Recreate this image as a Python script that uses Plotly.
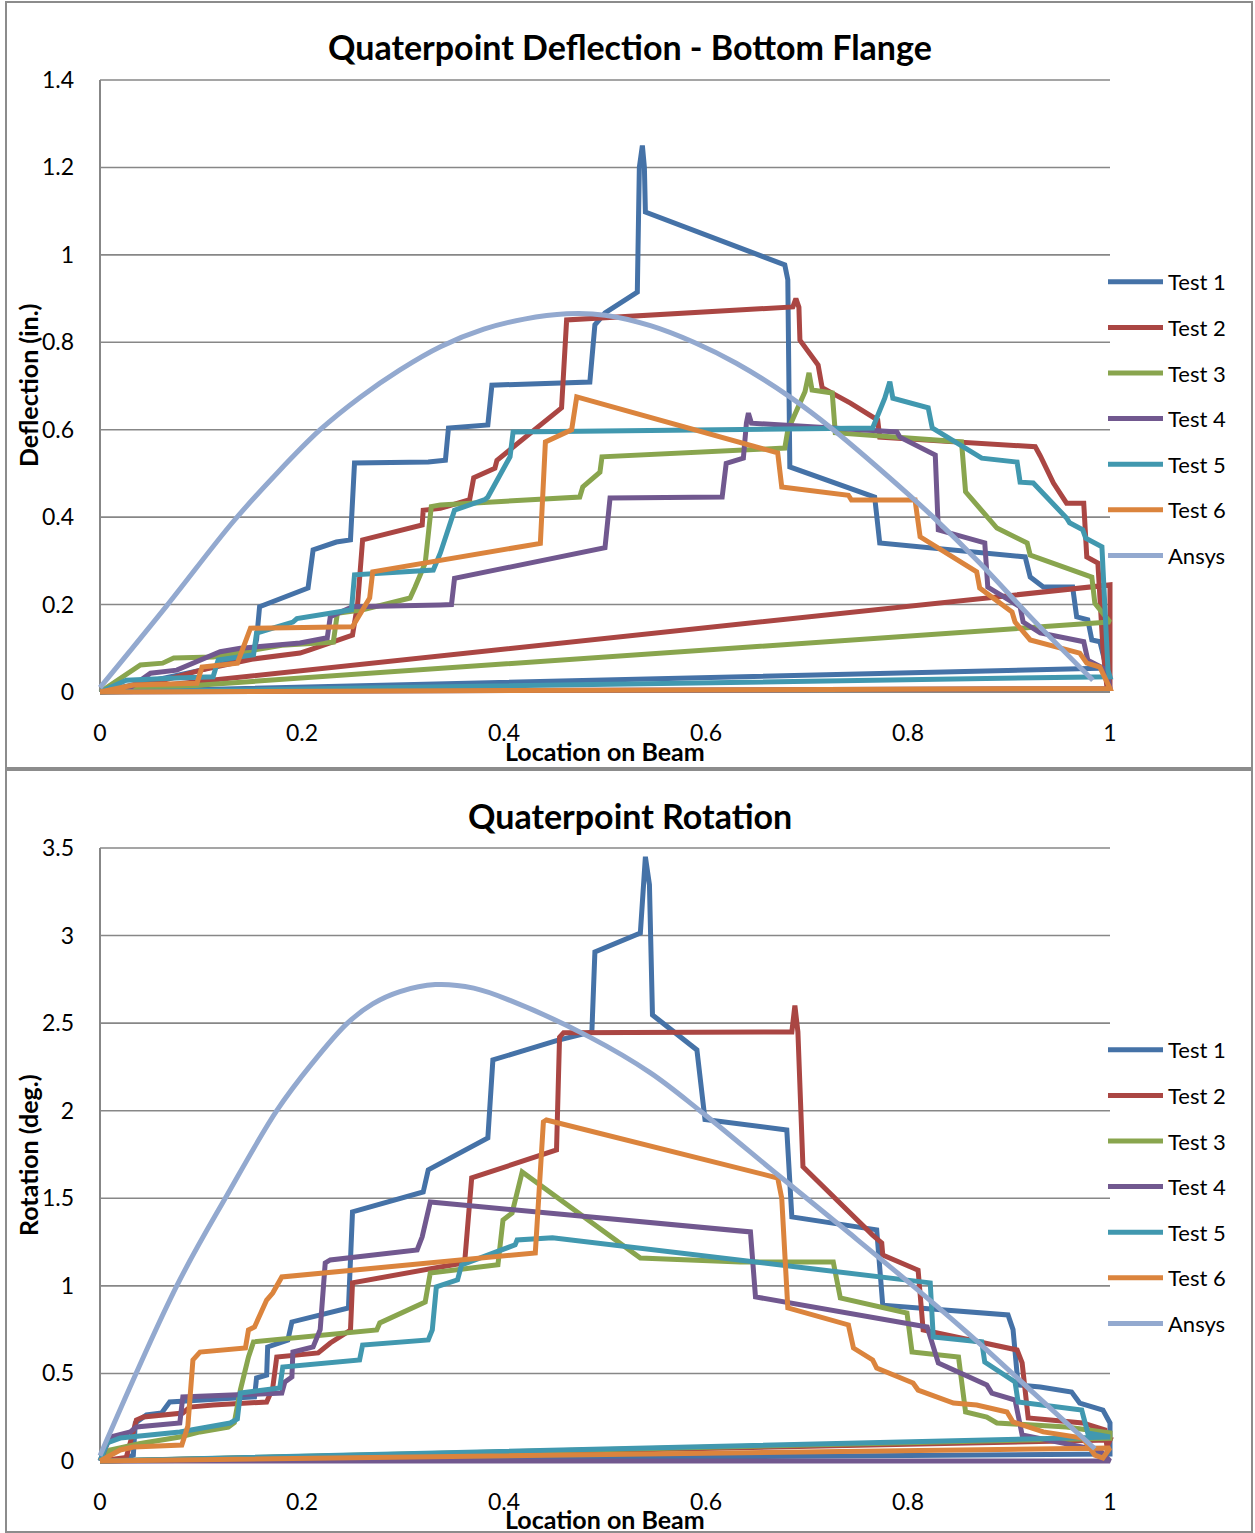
import plotly.graph_objects as go

W, H = 1255, 1533

names = ["Test 1", "Test 2", "Test 3", "Test 4", "Test 5", "Test 6", "Ansys"]
colors = ["#4572A7", "#AA4643", "#89A54E", "#71588F", "#4198AF", "#DB843D", "#93A9CF"]

# ---------------- Top: deflection (in.) ----------------
d1_x = [0, 0.03, 0.06, 0.1, 0.13, 0.152, 0.155, 0.158, 0.206, 0.211, 0.234, 0.248, 0.252, 0.325, 0.342, 0.345, 0.384, 0.388, 0.485, 0.49, 0.5, 0.532, 0.534, 0.537, 0.539, 0.54, 0.678, 0.681, 0.683, 0.767, 0.772, 0.916, 0.921, 0.934, 0.963, 0.967, 0.978, 0.982, 0.99, 0.997, 1.0, 0]
d1_y = [0, 0.015, 0.03, 0.05, 0.07, 0.09, 0.12, 0.195, 0.238, 0.325, 0.343, 0.348, 0.524, 0.526, 0.53, 0.604, 0.611, 0.702, 0.709, 0.84, 0.867, 0.915, 1.2, 1.25, 1.2, 1.098, 0.977, 0.943, 0.515, 0.446, 0.341, 0.309, 0.263, 0.24, 0.24, 0.172, 0.165, 0.119, 0.115, 0.05, 0.055, 0]

d2_x = [0, 0.03, 0.06, 0.1, 0.15, 0.198, 0.207, 0.25, 0.255, 0.26, 0.319, 0.32, 0.337, 0.366, 0.37, 0.391, 0.393, 0.457, 0.462, 0.686, 0.689, 0.692, 0.693, 0.711, 0.715, 0.743, 0.77, 0.772, 0.926, 0.931, 0.944, 0.957, 0.974, 0.977, 0.988, 0.993, 0.997, 1.0, 1.0, 0]
d2_y = [0, 0.01, 0.025, 0.05, 0.075, 0.089, 0.096, 0.13, 0.2, 0.348, 0.382, 0.416, 0.42, 0.44, 0.49, 0.512, 0.53, 0.65, 0.851, 0.881, 0.90, 0.88, 0.805, 0.748, 0.696, 0.661, 0.622, 0.583, 0.561, 0.54, 0.478, 0.432, 0.432, 0.309, 0.295, 0.1, 0.01, 0.01, 0.245, 0]

d3_x = [0, 0.02, 0.04, 0.062, 0.073, 0.112, 0.18, 0.231, 0.235, 0.26, 0.307, 0.312, 0.322, 0.328, 0.337, 0.475, 0.478, 0.495, 0.497, 0.678, 0.681, 0.698, 0.702, 0.705, 0.725, 0.728, 0.853, 0.857, 0.884, 0.888, 0.918, 0.921, 0.982, 0.985, 1.0, 0]
d3_y = [0, 0.03, 0.062, 0.066, 0.078, 0.08, 0.107, 0.114, 0.18, 0.188, 0.215, 0.24, 0.295, 0.424, 0.428, 0.446, 0.469, 0.503, 0.538, 0.558, 0.599, 0.687, 0.73, 0.691, 0.684, 0.593, 0.572, 0.458, 0.386, 0.375, 0.341, 0.313, 0.263, 0.203, 0.16, 0]

d4_x = [0, 0.03, 0.05, 0.076, 0.119, 0.139, 0.198, 0.225, 0.228, 0.25, 0.337, 0.348, 0.351, 0.5, 0.505, 0.616, 0.62, 0.637, 0.64, 0.642, 0.645, 0.789, 0.792, 0.827, 0.83, 0.876, 0.879, 0.911, 0.914, 0.931, 0.974, 0.978, 0.997, 1.0, 0]
d4_y = [0, 0.01, 0.043, 0.05, 0.092, 0.1, 0.112, 0.124, 0.172, 0.195, 0.199, 0.2, 0.26, 0.33, 0.444, 0.446, 0.523, 0.535, 0.615, 0.638, 0.615, 0.595, 0.583, 0.542, 0.371, 0.341, 0.24, 0.195, 0.16, 0.135, 0.115, 0.073, 0.05, 0.008, 0]

d5_x = [0, 0.026, 0.076, 0.112, 0.117, 0.152, 0.155, 0.191, 0.195, 0.249, 0.252, 0.33, 0.337, 0.351, 0.381, 0.384, 0.406, 0.409, 0.765, 0.777, 0.782, 0.785, 0.82, 0.824, 0.873, 0.908, 0.911, 0.924, 0.957, 0.96, 0.973, 0.976, 0.992, 0.998, 1.0, 0]
d5_y = [0, 0.027, 0.032, 0.035, 0.073, 0.085, 0.135, 0.16, 0.168, 0.188, 0.268, 0.279, 0.318, 0.416, 0.44, 0.446, 0.538, 0.595, 0.604, 0.672, 0.71, 0.672, 0.65, 0.604, 0.535, 0.526, 0.48, 0.478, 0.398, 0.387, 0.371, 0.352, 0.332, 0.05, 0.035, 0]

d6_x = [0, 0.033, 0.096, 0.101, 0.136, 0.149, 0.25, 0.267, 0.27, 0.337, 0.436, 0.441, 0.467, 0.472, 0.671, 0.675, 0.741, 0.744, 0.807, 0.812, 0.868, 0.871, 0.903, 0.906, 0.921, 0.97, 0.977, 0.99, 1.0, 0]
d6_y = [0, 0.016, 0.02, 0.057, 0.066, 0.146, 0.149, 0.215, 0.275, 0.302, 0.34, 0.572, 0.6, 0.675, 0.547, 0.469, 0.45, 0.439, 0.439, 0.355, 0.275, 0.238, 0.183, 0.16, 0.119, 0.089, 0.066, 0.057, 0.008, 0]

da_x = [0, 0.066, 0.132, 0.175, 0.218, 0.258, 0.297, 0.337, 0.38, 0.42, 0.462, 0.5, 0.545, 0.588, 0.63, 0.683, 0.726, 0.799, 0.825, 0.871, 0.924, 0.983]
da_y = [0.01, 0.197, 0.39, 0.5, 0.6, 0.675, 0.737, 0.79, 0.83, 0.853, 0.865, 0.862, 0.838, 0.8, 0.752, 0.675, 0.6, 0.455, 0.4, 0.295, 0.165, 0.027]

# ---------------- Bottom: rotation (deg.) ----------------
r1_x = [0, 0.02, 0.033, 0.035, 0.046, 0.061, 0.069, 0.153, 0.155, 0.165, 0.166, 0.186, 0.19, 0.228, 0.246, 0.25, 0.32, 0.325, 0.384, 0.389, 0.452, 0.487, 0.49, 0.535, 0.54, 0.544, 0.547, 0.591, 0.597, 0.599, 0.68, 0.685, 0.769, 0.775, 0.899, 0.904, 0.909, 0.931, 0.962, 0.97, 0.993, 1.0, 1.0, 0]
r1_y = [0, 0.0, 0.034, 0.217, 0.263, 0.274, 0.337, 0.366, 0.474, 0.491, 0.651, 0.691, 0.794, 0.845, 0.874, 1.422, 1.536, 1.662, 1.844, 2.29, 2.4, 2.45, 2.907, 3.015, 3.45, 3.29, 2.547, 2.347, 2.02, 1.95, 1.89, 1.394, 1.32, 0.89, 0.834, 0.75, 0.434, 0.423, 0.394, 0.331, 0.291, 0.217, 0.04, 0]

r2_x = [0, 0.026, 0.036, 0.043, 0.082, 0.089, 0.112, 0.165, 0.171, 0.175, 0.216, 0.228, 0.248, 0.25, 0.337, 0.361, 0.368, 0.452, 0.455, 0.459, 0.685, 0.688, 0.691, 0.696, 0.765, 0.774, 0.775, 0.81, 0.815, 0.908, 0.913, 0.919, 0.973, 0.995, 0.997, 1.0, 0]
r2_y = [0, 0.02, 0.234, 0.251, 0.274, 0.308, 0.32, 0.337, 0.417, 0.594, 0.617, 0.674, 0.748, 1.017, 1.108, 1.131, 1.616, 1.776, 2.42, 2.445, 2.45, 2.6, 2.45, 1.68, 1.29, 1.245, 1.176, 1.09, 0.748, 0.634, 0.56, 0.246, 0.217, 0.177, 0.08, 0.12, 0]

r3_x = [0, 0.01, 0.04, 0.079, 0.099, 0.127, 0.133, 0.139, 0.147, 0.152, 0.274, 0.277, 0.322, 0.327, 0.394, 0.399, 0.408, 0.418, 0.535, 0.634, 0.726, 0.733, 0.799, 0.804, 0.85, 0.857, 0.878, 0.888, 0.957, 1.0, 1.0, 0]
r3_y = [0, 0.063, 0.1, 0.137, 0.166, 0.194, 0.22, 0.406, 0.594, 0.68, 0.748, 0.788, 0.908, 1.074, 1.12, 1.376, 1.416, 1.65, 1.159, 1.136, 1.136, 0.931, 0.845, 0.622, 0.594, 0.28, 0.251, 0.217, 0.194, 0.16, 0.13, 0]

r4_x = [0, 0.01, 0.03, 0.036, 0.079, 0.082, 0.18, 0.183, 0.19, 0.191, 0.211, 0.218, 0.223, 0.228, 0.314, 0.319, 0.327, 0.644, 0.649, 0.819, 0.83, 0.878, 0.883, 0.906, 0.913, 0.96, 0.99, 1.0, 0]
r4_y = [0, 0.137, 0.166, 0.194, 0.217, 0.366, 0.388, 0.451, 0.48, 0.622, 0.651, 0.75, 1.131, 1.148, 1.205, 1.28, 1.479, 1.308, 0.937, 0.765, 0.56, 0.434, 0.388, 0.348, 0.149, 0.091, 0.06, 0.0, 0]

r5_x = [0, 0.007, 0.02, 0.079, 0.129, 0.136, 0.139, 0.178, 0.181, 0.257, 0.26, 0.325, 0.329, 0.333, 0.354, 0.358, 0.411, 0.413, 0.448, 0.822, 0.825, 0.873, 0.876, 0.906, 0.909, 0.972, 0.978, 1.0, 0]
r5_y = [0, 0.103, 0.131, 0.166, 0.217, 0.24, 0.388, 0.417, 0.537, 0.577, 0.662, 0.691, 0.748, 0.994, 1.034, 1.12, 1.234, 1.262, 1.274, 1.017, 0.708, 0.68, 0.565, 0.451, 0.337, 0.291, 0.16, 0.137, 0]

r6_x = [0, 0.02, 0.033, 0.081, 0.087, 0.092, 0.099, 0.144, 0.147, 0.153, 0.165, 0.171, 0.18, 0.431, 0.439, 0.442, 0.671, 0.675, 0.681, 0.741, 0.746, 0.765, 0.769, 0.805, 0.81, 0.845, 0.868, 0.898, 0.904, 0.934, 0.973, 0.985, 0.993, 1.0, 0]
r6_y = [0, 0.063, 0.08, 0.091, 0.2, 0.577, 0.622, 0.645, 0.748, 0.765, 0.919, 0.959, 1.051, 1.188, 1.936, 1.947, 1.616, 1.5, 0.874, 0.777, 0.645, 0.577, 0.531, 0.445, 0.405, 0.331, 0.32, 0.28, 0.223, 0.166, 0.131, 0.034, 0.017, 0.074, 0]

ra_x = [0, 0.076, 0.126, 0.175, 0.21, 0.245, 0.27, 0.297, 0.332, 0.37, 0.406, 0.485, 0.545, 0.594, 0.672, 0.74, 0.809, 0.874, 0.924, 0.985]
ra_y = [0.03, 1.0, 1.52, 2.0, 2.27, 2.5, 2.61, 2.68, 2.72, 2.70, 2.63, 2.42, 2.216, 2.0, 1.63, 1.31, 0.98, 0.655, 0.39, 0.07]

x_ticks = [0, 0.2, 0.4, 0.6, 0.8, 1]
top_yticks = [0, 0.2, 0.4, 0.6, 0.8, 1, 1.2, 1.4]
bot_yticks = [0, 0.5, 1, 1.5, 2, 2.5, 3, 3.5]

top_series = [(d1_x, d1_y), (d2_x, d2_y), (d3_x, d3_y), (d4_x, d4_y), (d5_x, d5_y), (d6_x, d6_y), (da_x, da_y)]
bot_series = [(r1_x, r1_y), (r2_x, r2_y), (r3_x, r3_y), (r4_x, r4_y), (r5_x, r5_y), (r6_x, r6_y), (ra_x, ra_y)]

FONT = "Lato"
GRID = "#878787"
LW = 5

fig = go.Figure()
for i, (xs, ys) in enumerate(top_series):
    fig.add_trace(go.Scatter(
        x=xs, y=ys, mode="lines", name=names[i], xaxis="x", yaxis="y",
        line=dict(color=colors[i], width=LW, shape="spline" if names[i] == "Ansys" else "linear"),
        legend="legend", legendgroup="t" + str(i)))
for i, (xs, ys) in enumerate(bot_series):
    fig.add_trace(go.Scatter(
        x=xs, y=ys, mode="lines", name=names[i], xaxis="x2", yaxis="y2",
        line=dict(color=colors[i], width=LW, shape="spline" if names[i] == "Ansys" else "linear"),
        legend="legend2", legendgroup="b" + str(i)))

def px_x(p):
    return p / W

def px_y(p):
    return 1 - p / H

X0, X1 = 100, 1110
ppx = (X1 - X0) / 1.0
padL, padR = 3, 4

def xaxis_cfg(anchor):
    return dict(domain=[px_x(X0 - padL), px_x(X1 + padR)],
                range=[-padL / ppx, 1 + padR / ppx],
                tickvals=x_ticks, ticktext=[("%g" % v) for v in x_ticks],
                showgrid=False, zeroline=False, showline=False, ticks="",
                anchor=anchor, automargin=False,
                tickfont=dict(family=FONT, size=23, color="black"),
                ticklabelstandoff=22, fixedrange=True)

def yaxis_cfg(anchor, ytop_px, y0_px, top_val, ticks):
    ppy = (y0_px - ytop_px) / top_val
    padT, padB = 3, 3
    return dict(domain=[px_y(y0_px + padB), px_y(ytop_px - padT)],
                range=[-padB / ppy, top_val + padT / ppy],
                tickvals=ticks, ticktext=[("%g" % v) for v in ticks],
                showgrid=False, zeroline=False, showline=False, ticks="",
                anchor=anchor, automargin=False,
                tickfont=dict(family=FONT, size=23, color="black"),
                ticklabelstandoff=22, fixedrange=True)

# gridlines and axis lines spanning exactly the value range 0..1
grid_shapes = []
for xr, yr, ticks in (("x", "y", top_yticks), ("x2", "y2", bot_yticks)):
    for t in ticks:
        grid_shapes.append(dict(type="line", xref=xr, yref=yr, x0=0, x1=1, y0=t, y1=t,
                                line=dict(color=GRID, width=2 if t == 0 else 1.6), layer="below"))
    grid_shapes.append(dict(type="line", xref=xr, yref=yr, x0=0, x1=0, y0=0, y1=ticks[-1],
                            line=dict(color=GRID, width=2), layer="below"))

legend_common = dict(xanchor="left", yanchor="top",
                     font=dict(family=FONT, size=22, color="black"),
                     tracegroupgap=14, itemwidth=55, bgcolor="rgba(0,0,0,0)",
                     borderwidth=0)

fig.update_layout(
    width=W, height=H, autosize=False,
    margin=dict(l=0, r=0, t=0, b=0, pad=0, autoexpand=False),
    paper_bgcolor="white", plot_bgcolor="white",
    xaxis=xaxis_cfg("y"),
    yaxis=yaxis_cfg("x", 80, 692, 1.4, top_yticks),
    xaxis2=xaxis_cfg("y2"),
    yaxis2=yaxis_cfg("x2", 848, 1461, 3.5, bot_yticks),
    legend=dict(x=px_x(1103), y=px_y(261), **legend_common),
    legend2=dict(x=px_x(1103), y=px_y(1029), **legend_common),
    shapes=[
        dict(type="rect", xref="paper", yref="paper",
             x0=px_x(6), x1=px_x(1252), y0=px_y(768), y1=px_y(2),
             line=dict(color="#8c8c8c", width=2), layer="below"),
        dict(type="rect", xref="paper", yref="paper",
             x0=px_x(6), x1=px_x(1252), y0=px_y(1532), y1=px_y(770),
             line=dict(color="#8c8c8c", width=2), layer="below"),
    ] + grid_shapes,
    annotations=[
        dict(text="<b>Quaterpoint Deflection - Bottom Flange</b>", xref="paper", yref="paper",
             x=px_x(630), y=px_y(47), showarrow=False, xanchor="center", yanchor="middle",
             font=dict(family=FONT, size=34, color="black")),
        dict(text="<b>Quaterpoint Rotation</b>", xref="paper", yref="paper",
             x=px_x(630), y=px_y(815), showarrow=False, xanchor="center", yanchor="middle",
             font=dict(family=FONT, size=34, color="black")),
        dict(text="<b>Deflection (in.)</b>", xref="paper", yref="paper", textangle=-90,
             x=px_x(28), y=px_y(386), showarrow=False, xanchor="center", yanchor="middle",
             font=dict(family=FONT, size=25, color="black")),
        dict(text="<b>Rotation (deg.)</b>", xref="paper", yref="paper", textangle=-90,
             x=px_x(28), y=px_y(1155), showarrow=False, xanchor="center", yanchor="middle",
             font=dict(family=FONT, size=25, color="black")),
        dict(text="<b>Location on Beam</b>", xref="paper", yref="paper",
             x=px_x(605), y=px_y(751), showarrow=False, xanchor="center", yanchor="middle",
             font=dict(family=FONT, size=25, color="black")),
        dict(text="<b>Location on Beam</b>", xref="paper", yref="paper",
             x=px_x(605), y=px_y(1519), showarrow=False, xanchor="center", yanchor="middle",
             font=dict(family=FONT, size=25, color="black")),
    ],
)

fig.write_html(
    "out.html",
    config={"displayModeBar": False},
    post_script="document.body.style.margin='0';document.body.style.padding='0';"
                "document.documentElement.style.overflow='hidden';document.body.style.overflow='hidden';",
)
